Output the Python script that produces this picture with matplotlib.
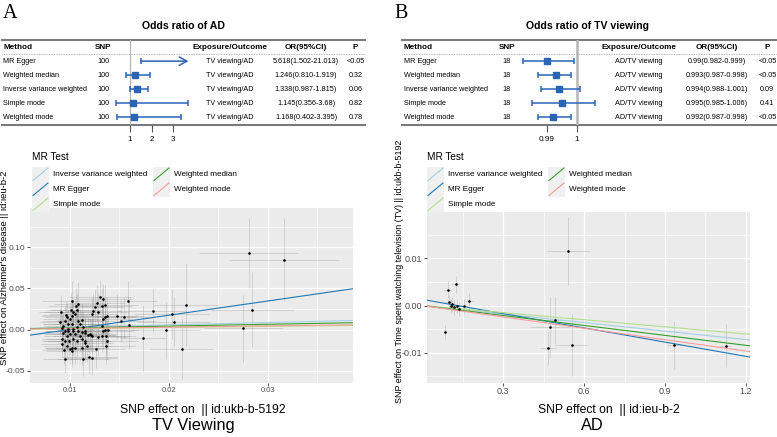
import numpy as np
import matplotlib
matplotlib.use('Agg')
import matplotlib.pyplot as plt
from matplotlib.patches import Rectangle
from matplotlib.ticker import MultipleLocator, FormatStrFormatter

W, H = 777, 437
plt.rcParams['axes.unicode_minus'] = False
SANS = ['Liberation Sans', 'DejaVu Sans']
SERIF = ['Liberation Serif', 'DejaVu Serif']

# ---- forest tables -------------------------------------------------------
methods = ['MR Egger', 'Weighted median', 'Inverse variance weighted',
           'Simple mode', 'Weighted mode']

a_snp = 100
a_expo = 'TV viewing/AD'
a_or = [5.618, 1.246, 1.338, 1.145, 1.168]
a_lo = [1.502, 0.810, 0.987, 0.356, 0.402]
a_hi = [21.013, 1.919, 1.815, 3.68, 3.395]
a_or_txt = ['5.618(1.502-21.013)', '1.246(0.810-1.919)', '1.338(0.987-1.815)',
            '1.145(0.356-3.68)', '1.168(0.402-3.395)']
a_p = ['<0.05', '0.32', '0.06', '0.82', '0.78']

b_snp = 18
b_expo = 'AD/TV viewing'
b_or = [0.990, 0.993, 0.994, 0.995, 0.992]
b_lo = [0.982, 0.987, 0.988, 0.985, 0.987]
b_hi = [0.999, 0.998, 1.001, 1.006, 0.998]
b_or_txt = ['0.99(0.982-0.999)', '0.993(0.987-0.998)', '0.994(0.988-1.001)',
            '0.995(0.985-1.006)', '0.992(0.987-0.998)']
b_p = ['<0.05', '<0.05', '0.09', '0.41', '<0.05']

# ---- scatter data (SNP effects) -----------------------------------------
a_bx = [
    0.01017, 0.00909, 0.01061, 0.01084, 0.01034, 0.01010, 0.01051, 0.01017, 0.00967, 0.01000,
    0.00899, 0.00949, 0.00983, 0.00933, 0.01017, 0.01084, 0.01101, 0.01118, 0.01068, 0.00949,
    0.00983, 0.01034, 0.00933, 0.00967, 0.01000, 0.01051, 0.01084, 0.01118, 0.01152, 0.01185,
    0.01209, 0.00916, 0.00949, 0.00990, 0.01034, 0.01068, 0.01118, 0.01152, 0.00916, 0.00967,
    0.01017, 0.01051, 0.01000, 0.01017, 0.01152, 0.01169, 0.01118, 0.01260, 0.00949, 0.01134,
    0.01195, 0.01219, 0.01303, 0.01336, 0.01270, 0.01320, 0.01354, 0.01236, 0.01286, 0.01219,
    0.01354, 0.01336, 0.01370, 0.01515, 0.01320, 0.01387, 0.01354, 0.01320, 0.01360, 0.01370,
    0.01360, 0.01286, 0.01219, 0.01336, 0.01202, 0.01152, 0.02808, 0.03162, 0.02841, 0.02751,
    0.02169, 0.02027, 0.02050, 0.01835, 0.01970, 0.01740, 0.02128, 0.01583, 0.01472, 0.01548,
    0.01596, 0.00920, 0.00985, 0.01030, 0.01100, 0.00940, 0.01070, 0.01250, 0.01130, 0.00960]
a_by = [
    0.0354, 0.0220, 0.0284, 0.0313, 0.0211, 0.0240, 0.0191, 0.0163, 0.0150, 0.0130,
    0.0089, 0.0110, 0.0069, 0.0049, 0.0069, 0.0110, 0.0069, 0.0118, 0.0028, -0.0012,
    -0.0020, -0.0012, -0.0045, -0.0073, -0.0053, -0.0053, -0.0012, -0.0033, -0.0045, -0.0061,
    -0.0061, -0.0114, -0.0134, -0.0134, -0.0114, -0.0134, -0.0114, -0.0134, -0.0175, -0.0195,
    -0.0216, -0.0216, -0.0236, -0.0256, -0.0155, -0.0195, -0.0216, -0.0236, -0.0350, -0.0358,
    -0.0329, -0.0346, 0.0402, 0.0374, 0.0321, 0.0293, 0.0305, 0.0232, 0.0211, 0.0191,
    0.0150, 0.0130, 0.0171, 0.0102, 0.0049, 0.0000, -0.0004, -0.0073, -0.0073, -0.0134,
    -0.0195, -0.0094, -0.0073, -0.0012, -0.0053, -0.0012, 0.0930, 0.0850, 0.0244, 0.0016,
    0.0305, 0.0191, 0.0098, 0.0232, -0.0009, -0.0101, -0.0228, 0.0345, 0.0162, 0.0150,
    0.0052, 0.0020, 0.0010, 0.0005, -0.0080, -0.0250, 0.0240, 0.0270, 0.0030, 0.0180]
a_sx = [
    0.0030, 0.0022, 0.0028, 0.0025, 0.0030, 0.0024, 0.0026, 0.0031, 0.0022, 0.0027,
    0.0020, 0.0023, 0.0026, 0.0021, 0.0029, 0.0024, 0.0027, 0.0025, 0.0030, 0.0022,
    0.0024, 0.0028, 0.0021, 0.0023, 0.0026, 0.0029, 0.0025, 0.0027, 0.0026, 0.0028,
    0.0025, 0.0020, 0.0023, 0.0025, 0.0028, 0.0030, 0.0026, 0.0027, 0.0021, 0.0023,
    0.0027, 0.0029, 0.0024, 0.0026, 0.0028, 0.0025, 0.0027, 0.0030, 0.0022, 0.0027,
    0.0028, 0.0026, 0.0032, 0.0030, 0.0029, 0.0031, 0.0033, 0.0028, 0.0030, 0.0027,
    0.0031, 0.0030, 0.0032, 0.0035, 0.0030, 0.0031, 0.0030, 0.0029, 0.0031, 0.0032,
    0.0030, 0.0029, 0.0028, 0.0030, 0.0027, 0.0026, 0.0050, 0.0056, 0.0042, 0.0040,
    0.0033, 0.0038, 0.0036, 0.0035, 0.0034, 0.0023, 0.0032, 0.0030, 0.0028, 0.0030,
    0.0031, 0.0021, 0.0024, 0.0026, 0.0027, 0.0022, 0.0026, 0.0029, 0.0027, 0.0023]
a_sy = [
    0.024, 0.020, 0.022, 0.026, 0.019, 0.021, 0.018, 0.020, 0.017, 0.019,
    0.016, 0.018, 0.017, 0.016, 0.019, 0.020, 0.018, 0.021, 0.019, 0.016,
    0.017, 0.018, 0.016, 0.017, 0.018, 0.019, 0.018, 0.020, 0.019, 0.021,
    0.020, 0.016, 0.017, 0.018, 0.019, 0.020, 0.019, 0.021, 0.016, 0.017,
    0.019, 0.020, 0.018, 0.019, 0.021, 0.020, 0.021, 0.023, 0.017, 0.020,
    0.021, 0.020, 0.020, 0.018, 0.022, 0.021, 0.024, 0.020, 0.022, 0.019,
    0.021, 0.020, 0.023, 0.025, 0.021, 0.022, 0.021, 0.020, 0.022, 0.023,
    0.022, 0.021, 0.020, 0.021, 0.019, 0.018, 0.043, 0.050, 0.045, 0.041,
    0.050, 0.030, 0.030, 0.026, 0.035, 0.040, 0.037, 0.024, 0.027, 0.025,
    0.028, 0.016, 0.017, 0.018, 0.019, 0.016, 0.019, 0.021, 0.019, 0.017]
a_egger_int = -0.0169

b_bx = [0.5407, 0.0941, 0.1237, 0.0989, 0.1089, 0.1063, 0.1274, 0.1544, 0.1730,
        0.1370, 0.0852, 0.4915, 0.4730, 0.4656, 0.5533, 0.9333, 1.1248, 0.1180]
b_by = [0.01155, 0.00334, 0.00454, 0.00078, 0.00028, -0.00014, -0.00014, -0.00020, 0.00092,
        -0.00070, -0.00567, -0.00312, -0.00461, -0.00908, -0.00830, -0.00837, -0.00850, -0.00040]
b_sx = [0.080, 0.012, 0.012, 0.010, 0.012, 0.010, 0.012, 0.015, 0.020,
        0.012, 0.008, 0.030, 0.074, 0.030, 0.062, 0.025, 0.020, 0.010]
b_sy = [0.0072, 0.0018, 0.0018, 0.0015, 0.0015, 0.0015, 0.0015, 0.0015, 0.0018,
        0.0015, 0.0015, 0.0050, 0.0065, 0.0035, 0.0066, 0.0050, 0.0045, 0.0015]
b_egger_int = 0.0013

legend_order = ['Inverse variance weighted', 'MR Egger', 'Simple mode',
                'Weighted median', 'Weighted mode']
line_colors = {'Inverse variance weighted': '#A6CEE3', 'MR Egger': '#1F78B4',
               'Simple mode': '#B2DF8A', 'Weighted median': '#33A02C',
               'Weighted mode': '#FB9A99'}
CI_BLUE = '#2b64b5'


def px_axes(fig, x0, y0, x1, y1):
    """axes placed in pixel coordinates of the 777x437 canvas (y from top)"""
    return fig.add_axes([x0 / W, 1 - y1 / H, (x1 - x0) / W, (y1 - y0) / H])


def draw_forest(fig, snp, expo, est, lo, hi, est_txt, pvals,
                tab_span, col_x, f_span, f_lim, ticks, tick_txt, ref_lw):
    top, bot = 40, 124.5
    tab = px_axes(fig, tab_span[0], top, tab_span[1], bot)
    tab.set_xlim(tab_span); tab.set_ylim(4.5, -1.5); tab.axis('off')
    tab.axhline(-1.5, color='#7a7a7a', lw=1.5, clip_on=False)
    tab.axhline(-0.5, color='#9a9a9a', lw=0.6, ls=(0, (1, 1)), clip_on=False)
    tab.axhline(4.5, color='#7a7a7a', lw=1.5, clip_on=False)
    heads = ['Method', 'SNP', 'Exposure/Outcome', 'OR(95%CI)', 'P']
    aligns = ['left', 'center', 'center', 'center', 'center']
    for h, x, ha in zip(heads, col_x, aligns):
        tab.text(x, -1, h, ha=ha, va='center', fontsize=5.9, fontweight='bold', family=SANS)
    for i, m in enumerate(methods):
        vals = [m, str(snp), expo, est_txt[i], pvals[i]]
        for v, x, ha in zip(vals, col_x, aligns):
            tab.text(x, i, v, ha=ha, va='center', fontsize=5.25, family=SANS)

    fax = px_axes(fig, f_span[0], top, f_span[1], bot)
    fax.set_xlim(f_lim); fax.set_ylim(4.5, -1.5)
    fax.patch.set_visible(False)
    for s in fax.spines.values():
        s.set_visible(False)
    fax.set_yticks([])
    fax.set_xticks(ticks)
    fax.set_xticklabels(tick_txt, family=SANS, fontsize=5.9)
    fax.tick_params(axis='x', length=5, width=0.8, color='#555555', pad=3)
    fax.axvline(1, color='#b5b5b5', lw=ref_lw, zorder=0)
    for i in range(len(methods)):
        if hi[i] > f_lim[1]:
            fax.annotate('', xy=(f_lim[1], i), xytext=(lo[i], i),
                         arrowprops=dict(arrowstyle='->,head_length=0.55,head_width=0.3',
                                         color=CI_BLUE, lw=1.1, shrinkA=0, shrinkB=0))
            fax.plot([lo[i]], [i], marker='|', ms=5, mew=1.1, color=CI_BLUE)
        else:
            fax.errorbar([est[i]], [i], xerr=[[est[i] - lo[i]], [hi[i] - est[i]]],
                         fmt='s', ms=4.6, color=CI_BLUE, ecolor=CI_BLUE,
                         elinewidth=1.1, capsize=2.4, capthick=1.1)


def draw_legend(fig, x0, key_x):
    lax = px_axes(fig, x0, 146, x0 + 300, 212)
    lax.set_xlim(x0, x0 + 300); lax.set_ylim(212, 146); lax.axis('off')
    lax.text(key_x[0], 157, 'MR Test', fontsize=7.2, va='center', family=SANS)
    for k, m in enumerate(legend_order):
        col, row = divmod(k, 3)
        kx, ky = key_x[col], 167 + row * 15
        lax.add_patch(Rectangle((kx, ky), 17, 14.5, facecolor='#F0F0F0', edgecolor='none'))
        lax.plot([kx + 1, kx + 16], [ky + 13.5, ky + 1], color=line_colors[m], lw=0.8)
        lax.text(kx + 21, ky + 7.5, m, fontsize=5.9, va='center', family=SANS)


def draw_scatter(fig, box, bx, by, sx, sy, est, egger_int, xlim, ylim,
                 xmaj, ymaj, xfmt, yfmt, xfs, yfs):
    ax = px_axes(fig, *box)
    ax.set_facecolor('#EBEBEB')
    ax.errorbar(bx, by, xerr=sx, yerr=sy, fmt='none', ecolor='#8c8c8c',
                elinewidth=0.6, alpha=0.35, zorder=2)
    ax.scatter(bx, by, s=3.5, c='black', lw=0, zorder=4)
    xs = np.array(xlim)
    for m in legend_order:
        slope = np.log(est[methods.index(m)])
        icpt = egger_int if m == 'MR Egger' else 0.0
        ax.plot(xs, icpt + slope * xs, color=line_colors[m], lw=0.8, zorder=3)
    ax.set_xlim(xlim); ax.set_ylim(ylim)
    ax.xaxis.set_major_locator(MultipleLocator(xmaj))
    ax.xaxis.set_minor_locator(MultipleLocator(xmaj / 2))
    ax.yaxis.set_major_locator(MultipleLocator(ymaj))
    ax.yaxis.set_minor_locator(MultipleLocator(ymaj / 2))
    ax.xaxis.set_major_formatter(FormatStrFormatter(xfmt))
    ax.yaxis.set_major_formatter(FormatStrFormatter(yfmt))
    ax.grid(which='major', color='white', lw=0.9)
    ax.grid(which='minor', color='white', lw=0.45)
    ax.set_axisbelow(True)
    for s in ax.spines.values():
        s.set_visible(False)
    ax.tick_params(which='major', length=2.2, width=0.6, color='#333333',
                   labelcolor='#4D4D4D', pad=1.0)
    ax.tick_params(which='minor', length=0)
    ax.tick_params(axis='x', labelsize=xfs)
    ax.tick_params(axis='y', labelsize=yfs)
    for t in ax.get_xticklabels() + ax.get_yticklabels():
        t.set_family(SANS)
    return ax


fig = plt.figure(figsize=(W / 100, H / 100), dpi=100)

# panel A
fig.text(10.5 / W, 1 - 14 / H, 'A', family=SERIF, fontsize=14.5, ha='center', va='center')
fig.text(183 / W, 1 - 26 / H, 'Odds ratio of AD', family=SANS, fontweight='bold',
         fontsize=7.6, ha='center', va='center')
draw_forest(fig, a_snp, a_expo, a_or, a_lo, a_hi, a_or_txt, a_p,
            (2, 365), [3, 103, 230, 306, 355.5], (110, 188.5),
            (1 + (110 - 130) / 21.5, 1 + (188.5 - 130) / 21.5), [1, 2, 3], ['1', '2', '3'], 0.9)
draw_scatter(fig, (30, 208, 353, 383), a_bx, a_by, a_sx, a_sy, a_or, a_egger_int,
             (0.00596, 0.0386), (-0.0646, 0.1476), 0.01, 0.05, '%.2f', '%.2f', 5.4, 6.1)
draw_legend(fig, 28, [32, 153])
fig.text(4.3 / W, 1 - 268 / H, "SNP effect on Alzheimer's disease || id:ieu-b-2",
         rotation=90, fontsize=6.8, family=SANS, ha='center', va='center')
fig.text(203 / W, 1 - 410 / H, 'SNP effect on  || id:ukb-b-5192', fontsize=8.7,
         family=SANS, ha='center', va='center')
fig.text(193.5 / W, 1 - 425.5 / H, 'TV Viewing', fontsize=11.8, family=SANS,
         ha='center', va='center')

# panel B
fig.text(401 / W, 1 - 14 / H, 'B', family=SERIF, fontsize=14.5, ha='center', va='center')
fig.text(587.5 / W, 1 - 26 / H, 'Odds ratio of TV viewing', family=SANS,
         fontweight='bold', fontsize=7.6, ha='center', va='center')
draw_forest(fig, b_snp, b_expo, b_or, b_lo, b_hi, b_or_txt, b_p,
            (402, 777), [403.5, 507, 639, 716.5, 767.3], (515, 600),
            (0.99 + (515 - 546.7) / 3000, 0.99 + (600 - 546.7) / 3000),
            [0.99, 1.0], ['0.99', '1'], 1.8)
draw_scatter(fig, (427, 212, 750, 383), b_bx, b_by, b_sx, b_sy, b_or, b_egger_int,
             (0.0174, 1.215), (-0.0164, 0.0198), 0.3, 0.01, '%.1f', '%.2f', 6.5, 6.5)
draw_legend(fig, 424, [427, 548])
fig.text(399 / W, 1 - 271.5 / H,
         'SNP effect on Time spent watching television (TV) || id:ukb-b-5192',
         rotation=90, fontsize=6.4, family=SANS, ha='center', va='center')
fig.text(609 / W, 1 - 410 / H, 'SNP effect on  || id:ieu-b-2', fontsize=8.7,
         family=SANS, ha='center', va='center')
fig.text(592 / W, 1 - 425.5 / H, 'AD', fontsize=11.8, family=SANS,
         ha='center', va='center')

fig.savefig('out.png', dpi=100)
